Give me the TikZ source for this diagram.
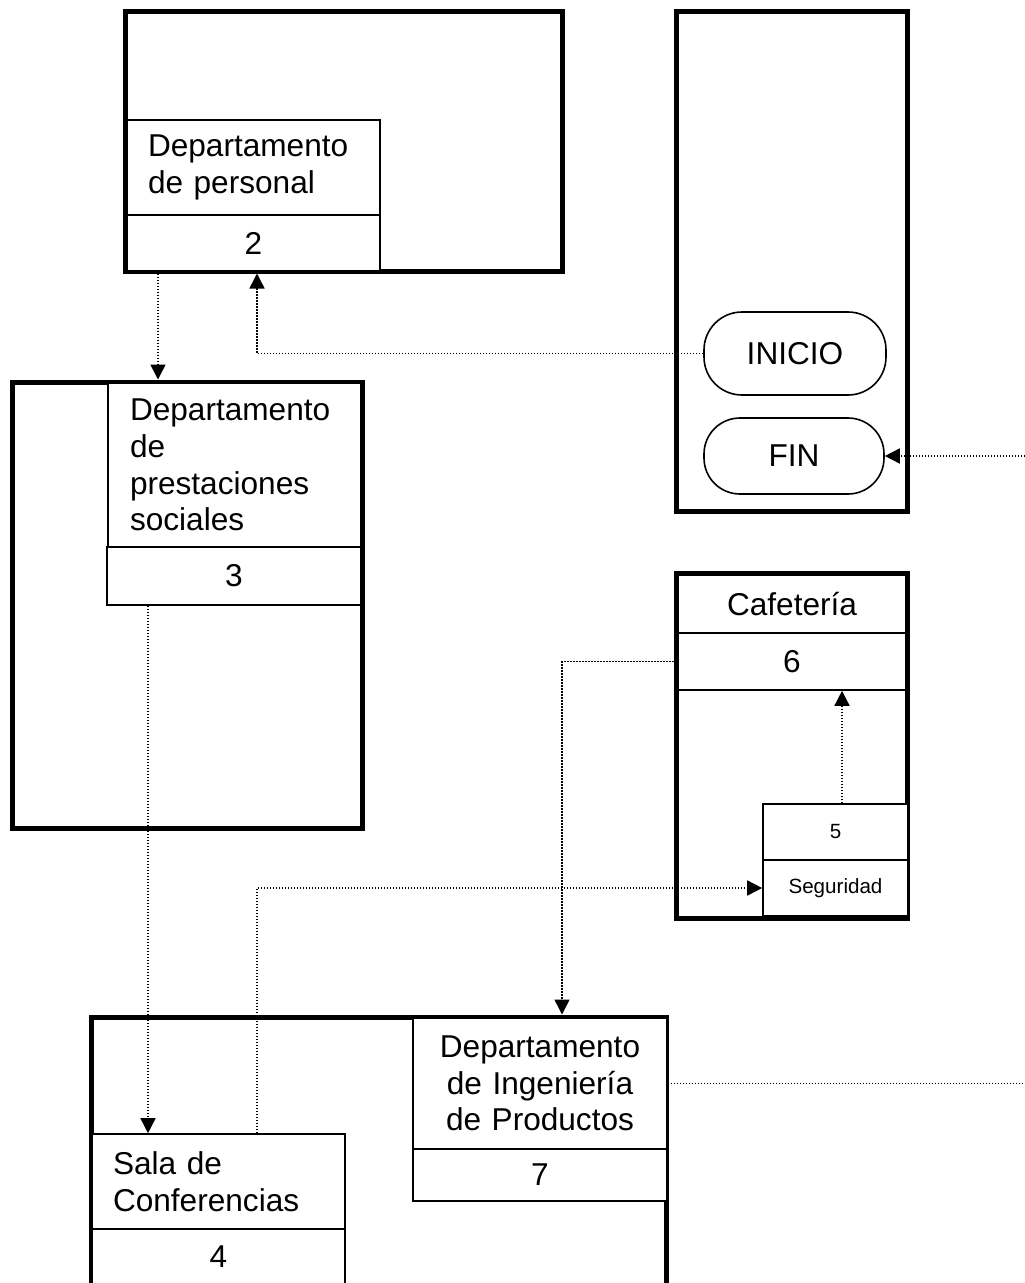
\documentclass[tikz,border=0pt]{standalone}
\usepackage{fontspec}
\setmainfont{Liberation Sans}
\usetikzlibrary{arrows.meta}

\begin{document}
\begin{tikzpicture}[x=1pt,y=-1pt,
  zone/.style={draw, line width=5pt, inner sep=0pt},
  room/.style={draw, line width=1.6pt, fill=white, inner sep=0pt,
               font=\fontsize{31.6}{36.7}\selectfont},
  smallroom/.style={room, font=\fontsize{20.6}{24}\selectfont},
  terminal/.style={draw, line width=1.6pt, fill=white, inner sep=0pt,
               font=\fontsize{31.6}{36.7}\selectfont},
  flow/.style={line width=1.5pt, dash pattern=on 1.5pt off 1.5pt},
  flowarrow/.style={flow, -{Triangle[length=15pt,width=15pt]}}
]
% page and clipping
\fill[white] (0,0) rectangle (1025,1283);
\clip (0,0) rectangle (1025,1283);

% route columns and the right edge
\coordinate (c148) at (148,0);
\coordinate (c158) at (158,0);
\coordinate (c257) at (257,0);
\coordinate (c562) at (562,0);
\coordinate (c842) at (842,0);
\coordinate (edgeR) at (1025,0);

% thick outlines of the areas
\node[zone, minimum width=437, minimum height=260] (A) at (343.5,141) {};
\node[zone, minimum width=231, minimum height=500] (R) at (791.5,261) {};
\node[zone, minimum width=350, minimum height=446] (B) at (187,605) {};
\node[zone, minimum width=231, minimum height=345] (C) at (791.5,745.5) {};
\node[zone, minimum width=575, minimum height=383] (D) at (378.5,1208.5) {};

% departamento de personal
\node[room, minimum width=253, minimum height=95, text width=211, align=left]
  (dp) at (253.5,167.5) {Departamento\\de personal};
\node[room, minimum width=253, minimum height=56] (n2) at (253.5,243) {2};

% departamento de prestaciones sociales
\node[room, minimum width=253, minimum height=164, text width=209, align=left]
  (ps) at (234.5,465) {Departamento\\de\\prestaciones\\sociales};
\node[room, minimum width=254, minimum height=58] (n3) at (234,576) {3};

% inicio / fin
\node[terminal, rounded corners=38pt, minimum width=182, minimum height=83]
  (inicio) at (795,353.5) {INICIO};
\node[terminal, rounded corners=36pt, minimum width=180, minimum height=76]
  (fin) at (794,456) {FIN};

% cafeteria
\node[font=\fontsize{31.6}{36.7}\selectfont, inner sep=0pt] (caf) at (792,604) {Cafetería};
\node[room, minimum width=228, minimum height=57] (n6) at (792,661.5) {6};

% seguridad
\node[smallroom, minimum width=145, minimum height=56] (n5) at (835.5,832) {5};
\node[smallroom, minimum width=145, minimum height=56] (seg) at (835.5,888) {Seguridad};

% sala de conferencias
\node[room, minimum width=253, minimum height=95, text width=211, align=left]
  (sala) at (218.5,1181.5) {Sala de\\Conferencias};
\node[room, minimum width=253, minimum height=56] (n4) at (218.5,1257) {4};

% departamento de ingenieria de productos
\node[room, minimum width=254, minimum height=131, text width=240, align=center]
  (d7) at (540,1083.5) {Departamento\\de Ingeniería\\de Productos};
\node[room, minimum width=254, minimum height=52] (n7) at (540,1175) {7};

% connectors
\draw[flowarrow] (A.south -| c158) -- (B.north -| c158);
\draw[flowarrow] (inicio.west) -| (A.south -| c257);
\draw[flowarrow] (fin.east -| edgeR) -- (fin.east);
\draw[flowarrow] (n3.south -| c148) -- (sala.north -| c148);
\draw[flowarrow] (sala.north -| c257) |- (seg.west);
\draw[flowarrow] (n5.north -| c842) -- (n6.south -| c842);
\draw[flowarrow] (C.west |- n6) -| (D.north -| c562);
\draw[flow] (d7.east) -- (d7.east -| edgeR);
\end{tikzpicture}
\end{document}
